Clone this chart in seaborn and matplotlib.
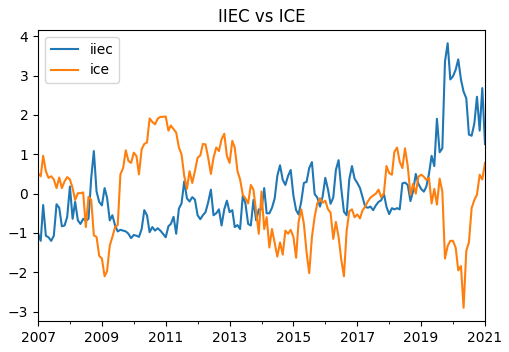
import numpy as np
import pandas as pd
import matplotlib
matplotlib.use("Agg")
import matplotlib.pyplot as plt
import matplotlib.dates as mdates
import seaborn as sns

start_month = "2007-01-01"
n_months = 169

iiec = [
    -1.0, -1.2, -0.29, -1.07, -1.11, -1.2, -1.07, -0.27, -0.36, -0.83, -0.81, -0.59,
    0.18, -0.64, -0.21, -0.68, -0.77, -0.64, -0.69, -0.64, 0.4, 1.08,
    0.05, -0.21, -0.3, 0.14, -0.1, -0.68, -0.55, -0.81, -0.96, -0.92, -0.94, -0.96,
    -1.02, -1.13, -1.05, -1.07, -1.1, -0.9, -0.42, -0.55,
    -0.98, -0.85, -0.94, -0.88, -0.94, -1.02, -1.11, -0.83, -0.77, -0.59, -1.02, -0.38,
    -0.25, 0.31, -0.12, -0.2, -0.09, -0.15, -0.55, -0.65, -0.55,
    -0.47, -0.22, 0.1, -0.55, -0.5, -0.4, -0.81, -0.4, -0.18, -0.47, -0.42, -0.85,
    -0.8, -0.9, -0.05, -0.25, -0.77, -0.81, -0.16, -0.68, -0.4, -0.4,
    0.14, -0.5, -0.5, -0.36, -0.12, 0.45, 0.72, 0.35, 0.22, 0.45, 0.6, -0.05,
    -0.42, -0.53, -0.2, 0.27, 0.3, 0.65, 0.8, -0.01, -0.1,
    -0.33, -0.08, 0.4, 0.1, -0.26, -0.1, 0.6, 0.85, 0.14, -0.46, -0.55, 0.36,
    0.7, 0.38, 0.27, 0.14, -0.08, -0.33, -0.36, -0.33, -0.42,
    -0.3, -0.21, -0.17, 0.0, -0.34, -0.52, -0.37, -0.4, -0.37, -0.4, 0.26, 0.28,
    0.22, -0.19, 0.06, 0.5, 0.25, 0.12, 0.05, 0.17, 0.5,
    0.96, 0.7, 1.9, 1.05, 1.15, 3.35, 3.82, 2.9, 2.98, 3.15, 3.41, 2.9,
    2.59, 2.42, 1.5, 1.47, 1.78, 2.46, 1.6, 2.68, 1.26,
]

ice = [
    0.52, 0.44, 0.96, 0.57, 0.40, 0.44, 0.36, 0.14, 0.41, 0.14, 0.31, 0.42,
    0.36, 0.14, -0.16, 0.01, 0.01, 0.03, -0.85, -0.08, -0.16, -1.06,
    -1.1, -1.58, -1.65, -2.1, -1.97, -1.32, -1.1, -0.85, -0.8, 0.49, 0.65, 1.1,
    0.83, 0.78, 1.04, 0.95, 0.49, 1.13, 1.26, 1.3,
    1.91, 1.82, 1.76, 1.9, 1.95, 1.95, 1.96, 1.6, 1.73, 1.64, 1.55, 1.17,
    1.0, 0.45, 0.12, 0.57, 0.27, 0.57, 0.91, 0.97, 1.26,
    1.25, 0.91, 0.5, 0.91, 1.17, 1.08, 1.38, 1.52, 0.96, 0.78, 1.34, 1.17,
    0.57, 0.36, -0.03, -0.12, -0.25, 0.22, 0.1, -0.47, -1.02, 0.05,
    -0.9, -0.6, -1.37, -0.9, -1.25, -1.6, -1.24, -1.55, -0.94, -1.02, -0.92, -1.1,
    -1.63, -0.72, -0.4, -0.77, -1.5, -2.02, -1.1, -0.59, -0.25,
    -0.12, -0.23, -0.18, -0.4, -0.48, -1.15, -0.72, -1.1, -1.67, -2.1, -0.95, -0.45,
    -0.4, -0.6, -0.53, -0.63, -0.43, -0.33, -0.2, -0.1, -0.05,
    0.0, 0.1, -0.09, 0.0, 0.7, 0.52, 0.48, 1.06, 1.17, 0.81, 0.65, 1.15,
    0.7, -0.03, 0.25, 0.0, 0.43, 0.48, 0.43, 0.35, 0.4,
    -0.25, 0.12, -0.28, 0.38, 0.05, -1.65, -1.33, -1.2, -1.2, -1.38, -1.95, -1.84,
    -2.9, -1.45, -1.24, -0.37, -0.16, -0.03, 0.48, 0.36, 0.78,
]

series_names = ["iiec", "ice"]
tick_years = [2007, 2009, 2011, 2013, 2015, 2017, 2019, 2021]
tick_labels = [str(y) for y in tick_years]
title = "IIEC vs ICE"

dates = pd.date_range(start_month, periods=n_months, freq="MS")
df = pd.DataFrame({"date": dates, "iiec": iiec[:n_months], "ice": ice[:n_months]})
long = df.melt(id_vars="date", value_vars=series_names, var_name="series", value_name="value")

fig = plt.figure(figsize=(5.09, 3.52), dpi=100)
ax = fig.add_axes([38 / 509, 1 - 321 / 352, (485 - 38) / 509, (321 - 30) / 352])

sns.lineplot(data=long, x="date", y="value", hue="series", hue_order=series_names,
             palette=["#1f77b4", "#ff7f0e"], linewidth=1.5, ax=ax)

ax.set_xlim(dates[0], dates[-1])
ax.set_xticks(pd.to_datetime([f"{y}-01-01" for y in tick_years]))
ax.set_xticklabels(tick_labels)
ax.xaxis.set_minor_locator(mdates.YearLocator(1))
ax.set_xlabel("")
ax.set_ylabel("")
ax.set_title(title, fontsize=12)
leg = ax.legend(loc="upper left", title=None)

fig.savefig("out.png", dpi=100)
